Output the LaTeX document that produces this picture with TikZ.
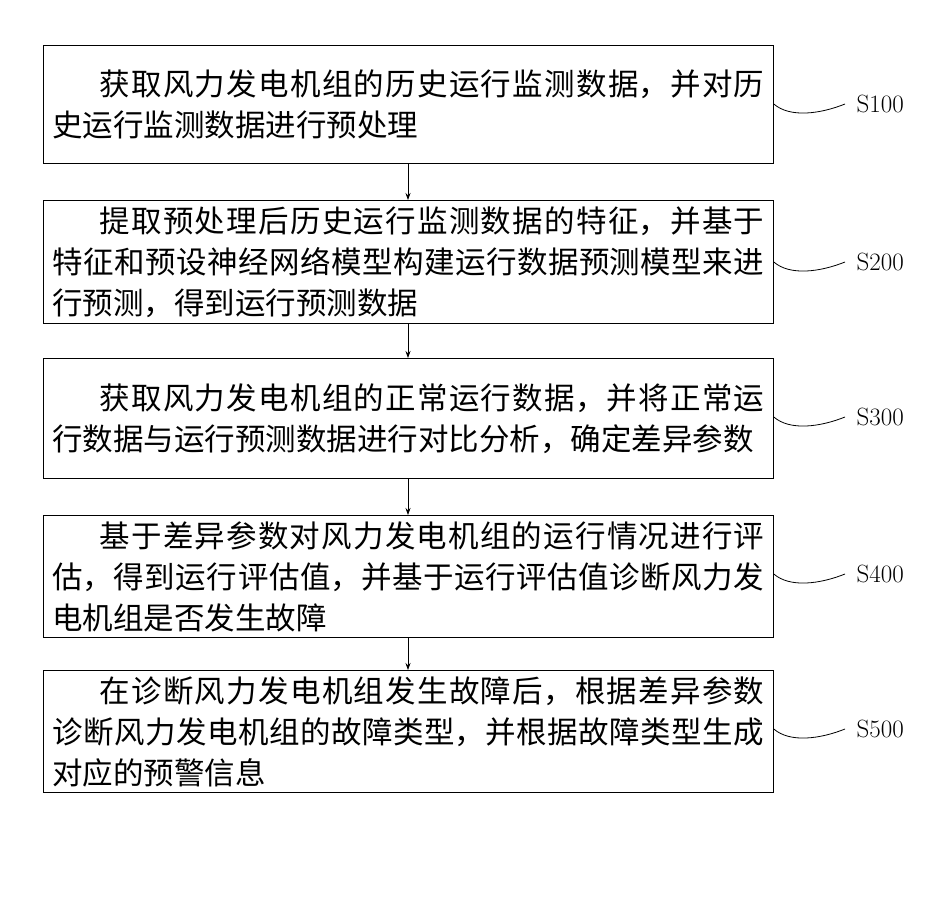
\documentclass[tikz,border=0pt]{standalone}
\usepackage{fontspec}
\newfontfamily\cjk{Noto Sans CJK SC}
\XeTeXlinebreaklocale "zh"
\XeTeXlinebreakskip=0pt plus 1pt
\usetikzlibrary{arrows.meta}
\begin{document}
\begin{tikzpicture}[x=1pt,y=-1pt,
  stepbox/.style={draw,line width=0.8pt,minimum width=730pt,text width=712pt,inner xsep=9pt,inner ysep=6pt,align=justify,font=\cjk\fontsize{30.5}{41}\selectfont,anchor=north west},
  arr/.style={-{Stealth[length=7pt,width=5pt]},line width=0.7pt},
  lab/.style={font=\fontsize{25}{27}\selectfont},
  wave/.style={line width=0.8pt}]
\useasboundingbox (0,0) rectangle (940,911);
\node[stepbox,minimum height=118pt] (b1) at (43,45) {\hspace*{1.55em}获取风力发电机组的历史运行监测数据，并对历史运行监测数据进行预处理};
\node[stepbox,minimum height=122pt] (b2) at (43,200) {\hspace*{1.55em}提取预处理后历史运行监测数据的特征，并基于特征和预设神经网络模型构建运行数据预测模型来进行预测，得到运行预测数据};
\node[stepbox,minimum height=120pt] (b3) at (43,358) {\hspace*{1.55em}获取风力发电机组的正常运行数据，并将正常运行数据与运行预测数据进行对比分析，确定差异参数};
\node[stepbox,minimum height=119pt] (b4) at (43,515) {\hspace*{1.55em}基于差异参数对风力发电机组的运行情况进行评估，得到运行评估值，并基于运行评估值诊断风力发电机组是否发生故障};
\node[stepbox,minimum height=120pt] (b5) at (43,670) {\hspace*{1.55em}在诊断风力发电机组发生故障后，根据差异参数诊断风力发电机组的故障类型，并根据故障类型生成对应的预警信息};
\foreach \a/\b in {b1/b2,b2/b3,b3/b4,b4/b5}{
  \draw[arr] (\a.south -| 408,0) -- (\b.north -| 408,0);
}
\foreach \n/\t/\y in {b1/S100/104,b2/S200/262,b3/S300/417,b4/S400/574,b5/S500/729}{
  \node[lab,anchor=west] (l\n) at (853,\y) {\t};
  \coordinate (c\n) at (\n.east |- 0,\y);
  \draw[wave] (c\n) .. controls (790,\y+14) and (820,\y+10) .. (845,\y);
}
\end{tikzpicture}
\end{document}
